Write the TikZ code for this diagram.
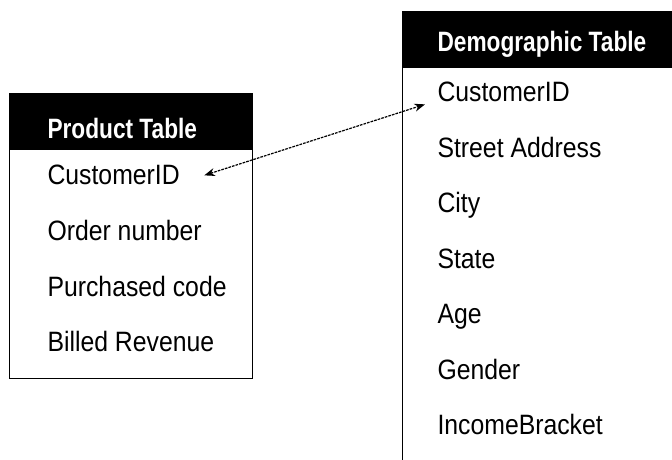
\documentclass[tikz,border=0pt]{standalone}
\usepackage{fontspec}
\setmainfont{Liberation Sans}
\newfontfamily\fieldfont[FakeStretch=0.885]{Liberation Sans}
\newfontfamily\titlefont[FakeStretch=0.81]{Liberation Sans}
\usetikzlibrary{arrows.meta}
\begin{document}
\begin{tikzpicture}[x=0.75pt, y=-0.75pt, line width=0.8pt,
    field/.style={anchor=base west, inner sep=0pt, font=\fieldfont\fontsize{21}{24}\selectfont},
    title/.style={anchor=base west, inner sep=0pt, text=white, font=\titlefont\bfseries\fontsize{21}{24}\selectfont},
    tablebox/.style={draw, rectangle, anchor=north west, inner sep=0pt},
    headbar/.style={draw, fill=black, rectangle, anchor=north west, inner sep=0pt}]
            \useasboundingbox (0,0) rectangle (672,460);
            \clip (0,0) rectangle (672,460);

            % Product table
            \node[tablebox, minimum width=182.25pt, minimum height=213.75pt] (prod) at (9,93) {};
            \node[headbar, minimum width=182.25pt, minimum height=42pt] (prodhead) at (9,93) {};
            \node[title] (prodtitle) at (47,138) {Product Table};
            \node[field] (pcust) at (47,185) {CustomerID};
            \node[field] (porder) at (47,240.5) {Order number};
            \node[field] (pcode) at (47,296) {Purchased code};
            \node[field] (prev) at (47,351.5) {Billed Revenue};

            % Demographic table (runs off the page)
            \node[tablebox, minimum width=217.5pt, minimum height=352.5pt] (demo) at (402,11) {};
            \node[headbar, minimum width=217.5pt, minimum height=42pt] (demohead) at (402,11) {};
            \node[title] (demotitle) at (437,52) {Demographic Table};
            \node[field] (dcust) at (437,102) {CustomerID};
            \node[field] (dstreet) at (437,157) {Street Address};
            \node[field] (dcity) at (437,212.5) {City};
            \node[field] (dstate) at (437,268) {State};
            \node[field] (dage) at (437,323.5) {Age};
            \node[field] (dgender) at (437,379) {Gender};
            \node[field] (dincome) at (437,434.5) {IncomeBracket};

            \draw[{Stealth[length=8pt,width=6pt]}-{Stealth[length=8pt,width=6pt]}, line width=0.9pt, dash pattern=on 2pt off 0.8pt]
                ([xshift=18pt]pcust.east) -- ([xshift=-9pt, yshift=-9pt]dcust.west); % key link
\end{tikzpicture}
\end{document}
